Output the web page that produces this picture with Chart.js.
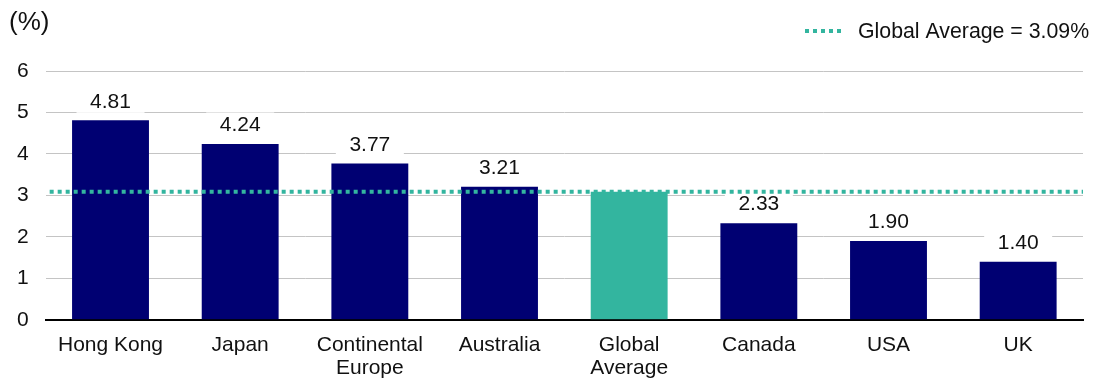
<!DOCTYPE html>
<html>
<head>
<meta charset="utf-8">
<script src="https://cdn.jsdelivr.net/npm/chart.js@4"></script>
<style>
html,body{margin:0;padding:0;overflow:hidden;background:#fff;}
#wrap{width:1109px;height:394px;position:relative;}
</style>
</head>
<body>
<div id="wrap"><canvas id="c"></canvas></div>
<script>
const categories = ["Hong Kong", "Japan", ["Continental", "Europe"], "Australia", ["Global", "Average"], "Canada", "USA", "UK"];
const values = [4.81, 4.24, 3.77, 3.21, 3.09, 2.33, 1.90, 1.40];
const valueLabels = ["4.81", "4.24", "3.77", "3.21", null, "2.33", "1.90", "1.40"];
const globalAverage = 3.09;
const legendText = "Global Average = 3.09%";
const yTicks = [0, 1, 2, 3, 4, 5, 6];

const NAVY = "#000072";
const TEAL = "#33B59F";
const TEXT = "#111";
const FONT = "'Liberation Sans', Arial, sans-serif";

const barColors = categories.map(c => (Array.isArray(c) && c[0] === "Global") ? TEAL : NAVY);

const overlayPlugin = {
  id: "overlay",
  afterDatasetsDraw(chart) {
    const ctx = chart.ctx;
    const area = chart.chartArea;
    const yScale = chart.scales.y;
    const meta = chart.getDatasetMeta(0);
    ctx.save();
    // value labels
    ctx.font = "21px " + FONT;
    ctx.textAlign = "center";
    ctx.textBaseline = "middle";
    meta.data.forEach((bar, i) => {
      const t = valueLabels[i];
      if (!t) return;
      const y = bar.y - 19.5;
      ctx.fillStyle = "#fff";
      ctx.fillRect(bar.x - 34, y - 12, 68, 24);
      ctx.fillStyle = TEXT;
      ctx.fillText(t, bar.x, y + 1);
    });
    // average line
    const ya = yScale.getPixelForValue(globalAverage);
    ctx.strokeStyle = TEAL;
    ctx.lineWidth = 4;
    ctx.setLineDash([4, 4]);
    ctx.beginPath();
    ctx.moveTo(area.left + 4, ya);
    ctx.lineTo(area.right, ya);
    ctx.stroke();
    ctx.setLineDash([]);
    ctx.restore();
  },
  afterDraw(chart) {
    const ctx = chart.ctx;
    ctx.save();
    ctx.fillStyle = TEXT;
    ctx.textBaseline = "middle";
    ctx.textAlign = "left";
    ctx.font = "26px " + FONT;
    ctx.fillText("(%)", 9, 23);
    // legend
    ctx.strokeStyle = TEAL;
    ctx.lineWidth = 4;
    ctx.setLineDash([4, 4]);
    ctx.beginPath();
    ctx.moveTo(805, 31);
    ctx.lineTo(845, 31);
    ctx.stroke();
    ctx.setLineDash([]);
    ctx.font = "21.3px " + FONT;
    ctx.fillText(legendText, 858, 32);
    ctx.restore();
  }
};

new Chart(document.getElementById("c"), {
  type: "bar",
  data: {
    labels: categories,
    datasets: [
      {
        label: "values",
        data: values,
        backgroundColor: barColors,
        barPercentage: 0.593,
        categoryPercentage: 1.0
      }
    ]
  },
  options: {
    responsive: true,
    maintainAspectRatio: false,
    animation: false,
    layout: { padding: { left: 0, right: 26, top: 71, bottom: 0 } },
    plugins: {
      tooltip: { enabled: false },
      legend: { display: false }
    },
    scales: {
      x: {
        type: "category",
        offset: true,
        grid: { display: false, drawTicks: false },
        border: { display: true, color: "#000", width: 2 },
        ticks: { color: TEXT, font: { family: FONT, size: 21, lineHeight: 1.1 }, padding: 14, maxRotation: 0, autoSkip: false }
      },
      y: {
        min: 0,
        max: 6,
        afterBuildTicks(axis) { axis.ticks = yTicks.map(v => ({ value: v })); },
        grid: { color: "#C4C4C4", lineWidth: 1, drawTicks: false },
        border: { display: false },
        ticks: { color: TEXT, font: { family: FONT, size: 21 }, padding: 17 }
      }
    }
  },
  plugins: [overlayPlugin]
});
</script>
</body>
</html>
